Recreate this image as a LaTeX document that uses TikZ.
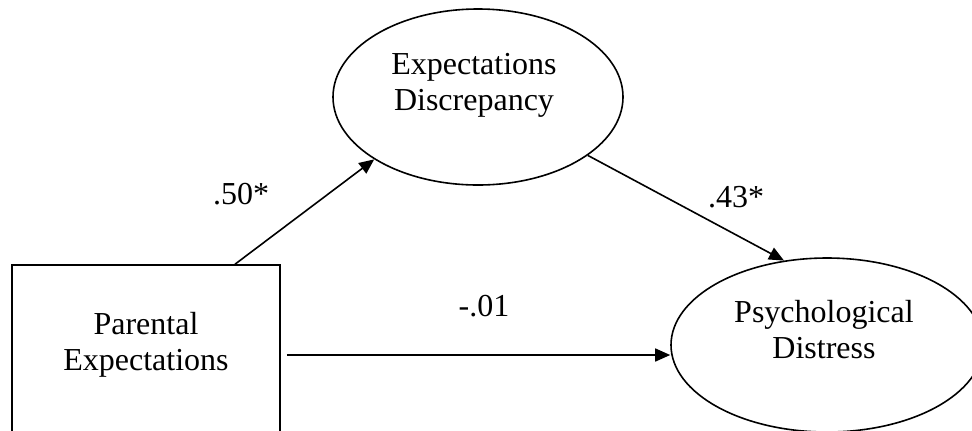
\documentclass[tikz,border=0pt]{standalone}
\usepackage{fontspec}
\setmainfont{Liberation Serif}
\usetikzlibrary{arrows.meta,calc,positioning,shapes.geometric}
\tikzset{pth/.style={-{Triangle[length=7.5pt, width=6.5pt]}, line width=0.8pt},
  var/.style={draw, line width=0.8pt, inner sep=0pt},
  txt/.style={font=\fontsize{16}{18}\selectfont, align=center, inner sep=0pt},
  coef/.style={font=\fontsize{16}{18}\selectfont, inner sep=0pt}}

\begin{document}
\begin{tikzpicture}[x=0.5pt, y=-0.5pt]
  \useasboundingbox (0,0) rectangle (972,430);
  % observed predictor
  \node[var, rectangle, minimum width=134pt, minimum height=90pt] (pe) at (146,355) {};
  \node[txt] (peT) at (146,345) {Parental\\Expectations};
  % mediator
  \node[var, ellipse, minimum width=145pt, minimum height=88pt] (disc) at (478,97) {};
  \node[txt] (discT) at (474,85) {Expectations\\Discrepancy};
  % outcome
  \node[var, ellipse, minimum width=156pt, minimum height=87pt] (dist) at (827,345) {};
  \node[txt] (distT) at (824,330) {Psychological\\Distress};
  % paths
  \draw[pth] ($(pe.north)+(89,0)$) -- (disc.211);
  \draw[pth] (disc.332) -- (dist.117);
  \draw[pth, shorten <=3pt] (pe.east) -- (pe.east -| dist.west);
  % coefficients
  \node[coef] (a) at (241,194) {.50*};
  \node[coef] (b) at (736,197) {.43*};
  \node[coef] (c) at (484,306) {-.01};
\end{tikzpicture}
\end{document}
